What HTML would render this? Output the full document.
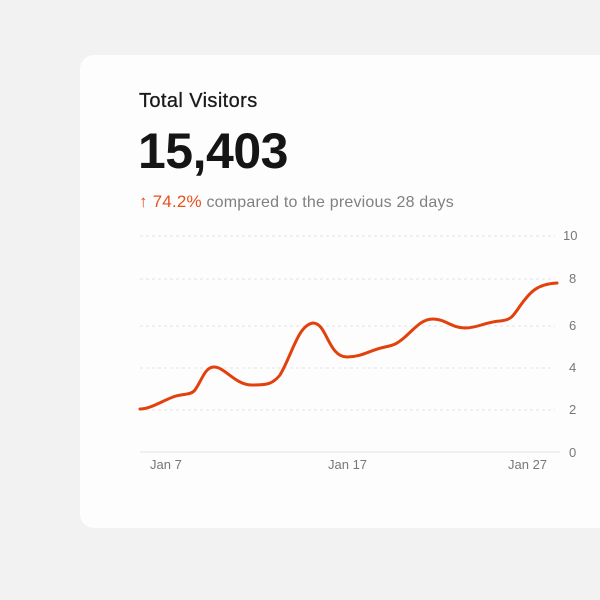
<!DOCTYPE html>
<html><head><style>
body{margin:0;width:600px;height:600px;background:#f2f2f2;position:relative;overflow:hidden;font-family:"Liberation Sans",sans-serif}
.card{position:absolute;left:80px;top:55px;width:540px;height:473px;background:#fdfdfd;border-radius:14px}
.t{position:absolute;left:139px;top:90px;font-size:20px;color:#1a1a1a;letter-spacing:0.4px;-webkit-text-stroke:0.3px #1a1a1a}
.n{position:absolute;left:138px;top:122px;font-size:50px;font-weight:bold;color:#151515;letter-spacing:-0.5px}
.s{position:absolute;left:139px;top:192px;font-size:16px;color:#808080;letter-spacing:0.2px}
.s b{color:#e8501c;font-weight:normal;font-size:17px}
</style></head><body>
<div class="card"></div>
<div class="t">Total Visitors</div>
<div class="n">15,403</div>
<div class="s"><b>↑ 74.2%</b> compared to the previous 28 days</div>
<svg width="600" height="600" style="position:absolute;left:0;top:0">
<g stroke="#e4e4e4" stroke-dasharray="3,3" stroke-width="1">
<line x1="140" x2="555" y1="236" y2="236"/><line x1="140" x2="555" y1="279" y2="279"/>
<line x1="140" x2="555" y1="326" y2="326"/><line x1="140" x2="555" y1="368" y2="368"/>
<line x1="140" x2="555" y1="410" y2="410"/></g>
<line x1="140" x2="560" y1="452" y2="452" stroke="#e4e4e4"/>
<g font-size="13" fill="#777" font-family="Liberation Sans,sans-serif">
<text x="563" y="240">10</text><text x="569" y="283">8</text><text x="569" y="330">6</text>
<text x="569" y="372">4</text><text x="569" y="414">2</text><text x="569" y="457">0</text>
<text x="150" y="469">Jan 7</text><text x="328" y="469">Jan 17</text><text x="508" y="469">Jan 27</text></g>
<path d="M140,409 C150,409 160,402 173,397 C183,393 190,396 195,390 C202,380 205,367 214,367 C225,367 235,385 252,385 C265,385 272,385 280,375 C292,355 298,325 313,323 C327,323 328,357 347,357 C362,357 370,350 385,347 C395,345 398,343 405,337 C415,328 422,319 433,319 C445,319 452,328 465,328 C478,328 485,322 500,321 C510,320 512,318 520,306 C530,292 537,284 557,283" fill="none" stroke="#e2400c" stroke-width="3" stroke-linecap="round"/>
</svg>
</body></html>
